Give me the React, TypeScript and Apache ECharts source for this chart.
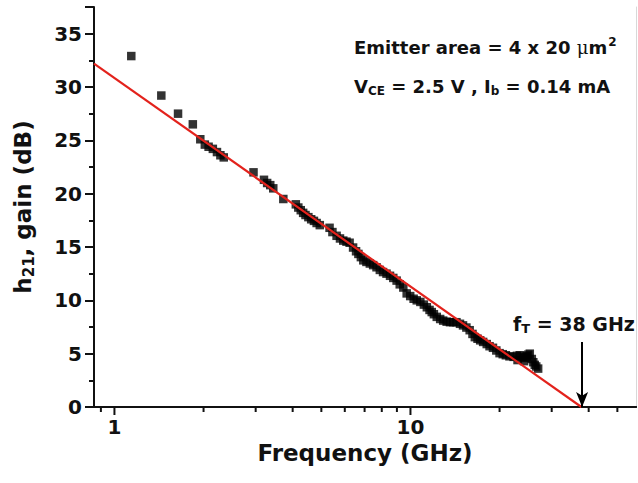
import React, { useEffect, useRef } from "react";
import * as echarts from "echarts";

// Frequency (GHz) and measured |h21| gain (dB)
const freqGHz = [
  1.14, 1.44, 1.64, 1.84, 1.95, 2.02, 2.08, 2.15, 2.22, 2.28, 2.34, 2.95, 3.2, 3.28, 3.36, 3.44,
  3.72, 4.1, 4.18, 4.26, 4.34, 4.42, 4.52, 4.62, 4.72, 4.82, 4.94, 5.33, 5.45, 5.63, 5.78, 5.93,
  6.08, 6.23, 6.4, 6.55, 6.67, 6.8, 6.93, 7.1, 7.29, 7.48, 7.68, 7.88, 8.08, 8.3, 8.53, 8.75,
  8.98, 9.2, 9.46, 9.71, 9.98, 10.25, 10.5, 10.8, 11.1, 11.36, 11.6, 11.8, 12.0, 12.27, 12.6,
  12.9, 13.25, 13.6, 13.95, 14.3, 14.7, 15.05, 15.45, 15.85, 16.2, 16.5, 16.85, 17.2, 17.6,
  18.1, 18.5, 19.0, 19.5, 20.0, 20.5, 21.0, 21.6, 22.3, 22.9, 23.0, 23.4, 23.9, 24.2, 24.4,
  24.7, 25.0, 25.3, 25.7, 26.0, 26.3, 26.6, 27.0,
];
const gainDb = [
  32.9, 29.2, 27.5, 26.5, 25.1, 24.6, 24.4, 24.2, 23.9, 23.6, 23.4, 22.0, 21.3, 21.0, 20.8, 20.5,
  19.5, 19.0, 18.7, 18.45, 18.2, 18.0, 17.8, 17.6, 17.45, 17.25, 17.05, 16.8, 16.4, 16.05, 15.8, 15.6,
  15.5, 15.4, 14.95, 14.6, 14.35, 14.05, 13.75, 13.6, 13.45, 13.3, 13.1, 12.85, 12.65, 12.5, 12.3, 12.1,
  11.85, 11.5, 11.2, 10.65, 10.4, 10.15, 10.0, 9.85, 9.6, 9.35, 9.1, 8.9, 8.7, 8.45, 8.25,
  8.1, 8.0, 7.95, 7.95, 7.95, 7.8, 7.65, 7.45, 7.2, 6.85, 6.55, 6.4, 6.25, 6.1,
  5.9, 5.7, 5.55, 5.3, 5.05, 4.95, 4.85, 4.75, 4.7, 4.8, 4.4, 4.85, 4.7, 4.3, 4.6,
  4.75, 4.9, 5.0, 4.5, 4.2, 3.95, 3.8, 3.6,
];

// Linear fit (in log frequency) endpoints
const fitFreq = [0.853, 37.8];
const fitGain = [32.2, 0];

// fT arrow
const fTGHz = 38;
const arrowTop = 6.1;

// Axis ticks
const xMajorTicks = [1, 10];
const xMinorTicks = [0.9, 2, 3, 4, 5, 6, 7, 8, 9, 20, 30, 40, 50];
const xMin = 0.853;
const xMax = 57.8;
const yMin = 0;
const yMax = 37.5;
const yInterval = 5;

const FONT = "'DejaVu Sans', 'Liberation Sans', Arial, sans-serif";
const INK = "#111111";

export default function App() {
  const ref = useRef<HTMLDivElement>(null);

  useEffect(() => {
    if (!ref.current) return;
    const chart = echarts.init(ref.current, undefined, { renderer: "svg" });

    const tickData = [
      ...xMajorTicks.map((v) => [v, 0, 8]),
      ...xMinorTicks.map((v) => [v, 0, 5]),
    ];

    chart.setOption({
      animation: false,
      backgroundColor: "#ffffff",
      grid: { left: 94, top: 7, width: 542, height: 400, containLabel: false },
      xAxis: [
        {
          type: "log",
          logBase: 10,
          min: xMin,
          max: xMax,
          name: "Frequency (GHz)",
          nameLocation: "middle",
          nameGap: 34,
          nameMoveOverlap: false,
          nameTextStyle: { fontFamily: FONT, fontWeight: "bold", fontSize: 23, color: INK },
          axisLine: { show: true, lineStyle: { color: INK, width: 2 } },
          axisTick: { show: false },
          splitLine: { show: false },
          axisLabel: {
            showMinLabel: false,
            showMaxLabel: false,
            margin: 10,
            fontFamily: FONT,
            fontWeight: "bold",
            fontSize: 20,
            color: INK,
          },
        },
        {
          type: "log",
          logBase: 10,
          min: xMin,
          max: xMax,
          position: "top",
          axisLine: { show: true, lineStyle: { color: INK, width: 2 } },
          axisTick: { show: false },
          axisLabel: { show: false },
          splitLine: { show: false },
        },
      ],
      yAxis: [
        {
          type: "value",
          min: yMin,
          max: yMax,
          interval: yInterval,
          name: "{a|h}{s|21}{a|, gain (dB)}",
          nameLocation: "middle",
          nameGap: 58,
          nameMoveOverlap: false,
          nameRotate: 90,
          nameTextStyle: {
            fontFamily: FONT,
            fontWeight: "bold",
            fontSize: 23,
            color: INK,
            rich: {
              a: { fontFamily: FONT, fontWeight: "bold", fontSize: 23, color: INK },
              s: {
                fontFamily: FONT,
                fontWeight: "bold",
                fontSize: 15,
                color: INK,
                padding: [11, 0, 0, 0],
              },
            },
          },
          axisLine: { show: true, lineStyle: { color: INK, width: 2 } },
          axisTick: { show: true, inside: false, length: 9, lineStyle: { color: INK, width: 2 } },
          minorTick: { show: true, splitNumber: 2, length: 5, lineStyle: { color: INK, width: 2 } },
          splitLine: { show: false },
          minorSplitLine: { show: false },
          axisLabel: {
            showMaxLabel: false,
            margin: 12,
            fontFamily: FONT,
            fontWeight: "bold",
            fontSize: 20,
            color: INK,
          },
        },
        {
          type: "value",
          min: yMin,
          max: yMax,
          position: "right",
          axisLine: { show: true, lineStyle: { color: "#d8d8d8", width: 1 } },
          axisTick: { show: false },
          axisLabel: { show: false },
          splitLine: { show: false },
        },
      ],
      series: [
        {
          type: "custom",
          name: "xticks",
          xAxisIndex: 0,
          yAxisIndex: 0,
          clip: false,
          silent: true,
          data: tickData,
          renderItem: (params: any, api: any) => {
            const p = api.coord([api.value(0), api.value(1)]);
            const len = api.value(2);
            return {
              type: "line",
              shape: { x1: p[0], y1: p[1], x2: p[0], y2: p[1] + len },
              style: { stroke: INK, lineWidth: 2 },
            };
          },
          z: 1,
        },
        {
          type: "scatter",
          name: "h21",
          symbol: "rect",
          symbolSize: 8.5,
          itemStyle: { color: "#000000" },
          data: freqGHz.map((f, i) => [f, gainDb[i]]),
          z: 2,
        },
        {
          type: "line",
          name: "fit",
          data: fitFreq.map((f, i) => [f, fitGain[i]]),
          showSymbol: false,
          symbol: "none",
          lineStyle: { color: "#e3221c", width: 2.2 },
          z: 3,
          markLine: {
            silent: true,
            symbol: ["none", "arrow"],
            symbolSize: [9, 15],
            label: { show: false },
            lineStyle: { color: "#000000", width: 2, type: "solid" },
            data: [[{ coord: [fTGHz, arrowTop] }, { coord: [fTGHz, 0] }]],
          },
        },
      ],
      graphic: [
        {
          type: "text",
          left: 354,
          top: 36,
          style: {
            text: "{a|Emitter area = 4 x 20 }{u|μ}{a|m}{p|2}",
            rich: {
              a: { fontFamily: FONT, fontWeight: "bold", fontSize: 18, fill: INK },
              u: { fontFamily: "'DejaVu Serif', serif", fontSize: 18, fill: INK },
              p: {
                fontFamily: FONT,
                fontWeight: "bold",
                fontSize: 12,
                fill: INK,
                padding: [0, 0, 11, 1],
              },
            },
          },
        },
        {
          type: "text",
          left: 354,
          top: 77,
          style: {
            text: "{a|V}{s|CE}{a| = 2.5 V , I}{s|b}{a| = 0.14 mA}",
            rich: {
              a: { fontFamily: FONT, fontWeight: "bold", fontSize: 18, fill: INK },
              s: {
                fontFamily: FONT,
                fontWeight: "bold",
                fontSize: 12,
                fill: INK,
                padding: [10, 0, 0, 0],
              },
            },
          },
        },
        {
          type: "text",
          left: 513,
          top: 314,
          style: {
            text: "{a|f}{s|T}{a| = 38 GHz}",
            rich: {
              a: { fontFamily: FONT, fontWeight: "bold", fontSize: 19, fill: INK },
              s: {
                fontFamily: FONT,
                fontWeight: "bold",
                fontSize: 13,
                fill: INK,
                padding: [10, 0, 0, 0],
              },
            },
          },
        },
      ],
    });

    return () => chart.dispose();
  }, []);

  return (
    <div
      ref={ref}
      style={{ position: "fixed", left: 0, top: 0, width: 638, height: 483, background: "#fff" }}
    />
  );
}
